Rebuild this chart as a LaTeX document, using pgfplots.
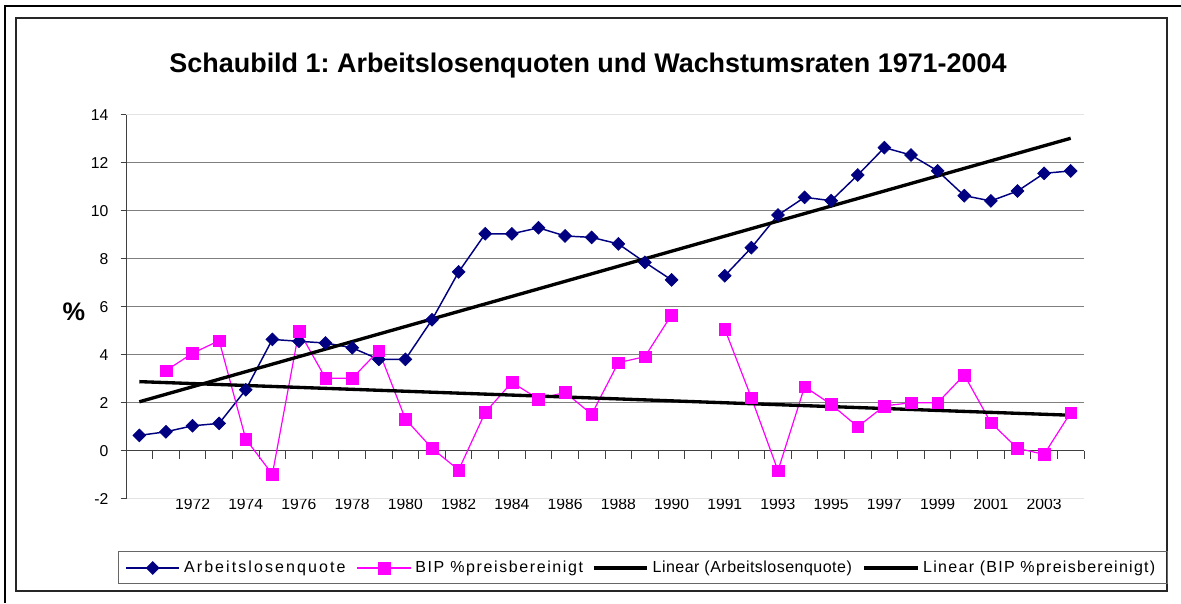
\documentclass[border=0pt]{standalone}
\usepackage{fontspec}
\setmainfont{Liberation Sans}
\newfontfamily\legfonta[LetterSpace=13]{Liberation Sans}
\newfontfamily\legfont[LetterSpace=10]{Liberation Sans}
\newfontfamily\legfontb[LetterSpace=3]{Liberation Sans}
\newfontfamily\legfontc[LetterSpace=8]{Liberation Sans}
\usepackage{pgfplots}
\usepackage{pgfplotstable}
\pgfplotsset{compat=1.18}
\definecolor{navyblue}{HTML}{000080}
\definecolor{pinkm}{HTML}{FF00FF}
\definecolor{gridgray}{HTML}{808080}
\definecolor{lightgrid}{HTML}{E4E4E4}
\frenchspacing

\pgfplotstableread{
x y
0 0.65
1 0.8
2 1.05
3 1.15
4 2.55
5 4.65
6 4.57
7 4.5
8 4.3
9 3.82
10 3.82
11 5.47
12 7.46
13 9.05
14 9.05
15 9.3
16 8.96
17 8.9
18 8.63
19 7.86
20 7.13
21 nan
22 7.3
23 8.47
24 9.83
25 10.57
26 10.43
27 11.5
28 12.64
29 12.33
30 11.67
31 10.64
32 10.42
33 10.83
34 11.57
35 11.67
}\alq

\pgfplotstableread{
x y
1 3.35
2 4.07
3 4.6
4 0.5
5 -0.97
6 5.0
7 3.03
8 3.03
9 4.18
10 1.33
11 0.11
12 -0.79
13 1.61
14 2.86
15 2.17
16 2.44
17 1.53
18 3.68
19 3.93
20 5.67
21 nan
22 5.08
23 2.22
24 -0.82
25 2.68
26 1.94
27 1.01
28 1.88
29 2.01
30 2.01
31 3.17
32 1.18
33 0.11
34 -0.14
35 1.6
}\bip

\begin{document}
\begin{tikzpicture}
\useasboundingbox (0pt,0pt) rectangle (885.75pt,452.25pt);
\draw[line width=1.5pt] (3pt,447.75pt) -- (885.75pt,447.75pt);
\draw[line width=1.5pt] (3.75pt,448.5pt) -- (3.75pt,0pt);
\draw[line width=0.8pt, black!85] (12pt,9pt) rectangle (875.25pt,438.75pt);
\draw[line width=0.75pt, black!60] (88.5pt,14.25pt) rectangle (875.25pt,38.25pt);
\begin{axis}[
  at={(94.5pt,78pt)}, anchor=south west,
  scale only axis, width=718.5pt, height=288pt,
  xmin=-0.5, xmax=35.5, ymin=-2, ymax=14,
  clip=false,
  axis line style={draw=none},
  tick align=outside,
  ytick={0,2,...,12},
  extra y ticks={-2,14},
  extra y tick style={grid=major, grid style={lightgrid, line width=0.75pt}},
  ymajorgrids, grid style={gridgray, line width=0.75pt},
  ytick pos=left,
  major tick length=4pt,
  ytick style={black!75, line width=0.75pt},
  yticklabel style={font=\fontsize{11.8}{13}\selectfont, anchor=east, inner sep=0pt, xshift=-9pt},
  xtick={2,4,...,34},
  xticklabels={1972,1974,1976,1978,1980,1982,1984,1986,1988,1990,1991,1993,1995,1997,1999,2001,2003},
  xtick style={draw=none},
  xticklabel style={font=\fontsize{11.8}{13}\selectfont, anchor=center, fill=white, inner xsep=1pt, inner ysep=0pt},
  /pgf/number format/assume math mode=true,
  unbounded coords=jump,
  title={Schaubild 1: Arbeitslosenquoten und Wachstumsraten 1971-2004},
  title style={at={(axis description cs:0.4823,1.0911)}, anchor=base, font=\bfseries\fontsize{20.2}{24}\selectfont},
  ylabel={\%},
  ylabel style={rotate=-90, at={(axis description cs:-0.0543,0.487)}, anchor=center, font=\bfseries\fontsize{19}{22}\selectfont},
  legend columns=4,
  legend style={draw=none, fill=none, at={(axis description cs:-0.001,-0.1797)}, anchor=west, inner sep=0pt, column sep=0pt,
    /tikz/column 2/.style={column sep=5.5pt},
    /tikz/column 4/.style={column sep=3.75pt},
    /tikz/column 6/.style={column sep=5pt},
    nodes={inner xsep=3pt, inner ysep=0pt}, font=\fontsize{12}{14}\selectfont},
  legend image code/.code={\draw[mark repeat=2, mark phase=2, #1] plot coordinates {(0pt,0pt) (20pt,0pt) (40pt,0pt)};},
]
\draw[black!75, line width=0.75pt] (axis cs:-0.5,-2) -- (axis cs:-0.5,14);
\draw[black!75, line width=0.75pt] (axis cs:-0.5,0) -- (axis cs:35.5,0);
\pgfplotsinvokeforeach{-0.5,0.5,...,35.5}{\draw[black!75, line width=0.75pt] (axis cs:#1,0) -- ([yshift=-6pt]axis cs:#1,0);}
\addplot[color=navyblue, line width=1.1pt, mark=square*, mark size=3.4pt, mark options={rotate=45, fill=navyblue, draw=navyblue, solid, line width=0.5pt}] table[x=x, y=y] {\alq};
\addlegendentry{{\legfonta Arbeitslosenquote}}
\addplot[color=pinkm, line width=0.9pt, mark=square*, mark size=4.4pt, mark options={fill=pinkm, draw=pinkm, solid, line width=0.3pt}] table[x=x, y=y] {\bip};
\addlegendentry{{\legfont BIP \%preisbereinigt}}
\addplot[black, line width=2.5pt] coordinates {(0,2.05) (35,13.03)};
\addlegendentry{{\legfontb Linear (Arbeitslosenquote)}}
\addplot[black, line width=2.5pt] coordinates {(0,2.89) (35,1.49)};
\addlegendentry{{\legfontc Linear (BIP \%preisbereinigt)}}
\end{axis}
\end{tikzpicture}
\end{document}
